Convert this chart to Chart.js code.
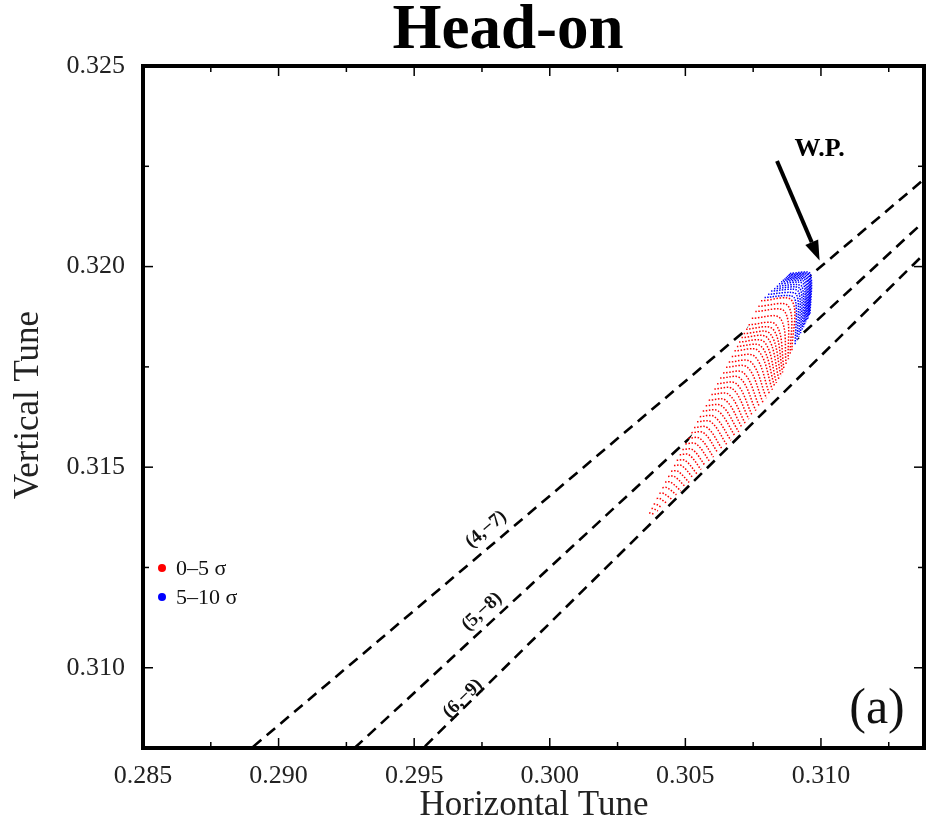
<!DOCTYPE html>
<html><head><meta charset="utf-8">
<script src="https://cdn.jsdelivr.net/npm/chart.js@4/dist/chart.umd.min.js"></script>
<style>html,body{margin:0;padding:0;background:#fff}canvas{display:block}</style>
</head><body>
<canvas id="c" width="933" height="821"></canvas>
<script>
// ---- axis ticks ----
const xTickValues = [0.285, 0.290, 0.295, 0.300, 0.305, 0.310];
const yTickValues = [0.310, 0.315, 0.320, 0.325];
const xMinorTicks = [0.2875, 0.2925, 0.2975, 0.3025, 0.3075, 0.3125];
const yMinorTicks = [0.3125, 0.3175, 0.3225];

// ---- resonance lines (Qx, Qy end points) ----
const res47 = [[0.285, 0.30571], [0.315, 0.32286]];
const res58 = [[0.285, 0.303125], [0.315, 0.321875]];
const res69 = [[0.285, 0.301111], [0.315, 0.321111]];
const resLabels = ['(4,\u22127)', '(5,\u22128)', '(6,\u22129)'];
const resLabelPos = [[0.29765, 0.31345], [0.2975, 0.3114], [0.2968, 0.30923]];

// ---- working point arrow ----
const wpArrow = [[0.30838, 0.32263], [0.30995, 0.32015]];
const wpLabelPos = [0.30995, 0.32293];

// ---- footprint 0-5 sigma (red): each arc = upper-left end, middle, lower-right end ----
const redUL = [[0.30366,0.31386],[0.30375,0.31397],[0.30383,0.31408],[0.30394,0.31422],[0.30404,0.31435],[0.30415,0.31449],[0.30425,0.31463],[0.30436,0.31477],[0.30447,0.31490],[0.30458,0.31504],[0.30468,0.31517],[0.30479,0.31531],[0.30489,0.31544],[0.30500,0.31558],[0.30511,0.31572],[0.30522,0.31586],[0.30532,0.31599],[0.30543,0.31613],[0.30553,0.31626],[0.30564,0.31640],[0.30575,0.31653],[0.30586,0.31667],[0.30596,0.31681],[0.30607,0.31695],[0.30617,0.31708],[0.30628,0.31722],[0.30639,0.31735],[0.30650,0.31749],[0.30660,0.31762],[0.30671,0.31776],[0.30681,0.31790],[0.30690,0.31801],[0.30698,0.31812],[0.30707,0.31823],[0.30715,0.31833],[0.30724,0.31844],[0.30733,0.31855],[0.30745,0.31871],[0.30758,0.31888],[0.30769,0.31901],[0.30779,0.31915]];
const redMid = [[0.30369,0.31386],[0.30380,0.31397],[0.30391,0.31408],[0.30405,0.31422],[0.30418,0.31435],[0.30432,0.31449],[0.30445,0.31463],[0.30459,0.31477],[0.30472,0.31490],[0.30486,0.31504],[0.30499,0.31517],[0.30513,0.31531],[0.30526,0.31544],[0.30540,0.31558],[0.30553,0.31572],[0.30567,0.31586],[0.30580,0.31599],[0.30594,0.31613],[0.30607,0.31626],[0.30621,0.31640],[0.30634,0.31653],[0.30648,0.31667],[0.30661,0.31681],[0.30675,0.31695],[0.30688,0.31708],[0.30702,0.31722],[0.30715,0.31735],[0.30729,0.31749],[0.30742,0.31762],[0.30756,0.31776],[0.30769,0.31790],[0.30780,0.31801],[0.30791,0.31812],[0.30802,0.31823],[0.30812,0.31833],[0.30823,0.31844],[0.30834,0.31855],[0.30850,0.31871],[0.30866,0.31888],[0.30880,0.31901],[0.30893,0.31915]];
const redLR = [[0.30384,0.31383],[0.30399,0.31391],[0.30414,0.31399],[0.30432,0.31410],[0.30450,0.31420],[0.30467,0.31431],[0.30483,0.31441],[0.30499,0.31452],[0.30514,0.31462],[0.30529,0.31473],[0.30543,0.31483],[0.30558,0.31494],[0.30573,0.31504],[0.30589,0.31515],[0.30604,0.31525],[0.30620,0.31536],[0.30635,0.31546],[0.30652,0.31557],[0.30668,0.31567],[0.30683,0.31578],[0.30697,0.31588],[0.30709,0.31599],[0.30721,0.31609],[0.30734,0.31620],[0.30746,0.31630],[0.30760,0.31641],[0.30773,0.31651],[0.30786,0.31662],[0.30799,0.31672],[0.30810,0.31683],[0.30821,0.31693],[0.30829,0.31702],[0.30836,0.31710],[0.30845,0.31719],[0.30853,0.31727],[0.30859,0.31736],[0.30864,0.31744],[0.30872,0.31756],[0.30880,0.31769],[0.30887,0.31780],[0.30893,0.31790]];

// ---- footprint 5-10 sigma (blue) ----
const blueUL = [[0.30792,0.31923],[0.30805,0.31931],[0.30816,0.31939],[0.30827,0.31945],[0.30837,0.31951],[0.30845,0.31957],[0.30853,0.31962],[0.30859,0.31966],[0.30865,0.31969],[0.30870,0.31972],[0.30874,0.31975],[0.30879,0.31978],[0.30882,0.31980],[0.30886,0.31983]];
const blueMid = [[0.30901,0.31923],[0.30909,0.31931],[0.30916,0.31939],[0.30923,0.31945],[0.30929,0.31951],[0.30935,0.31957],[0.30939,0.31962],[0.30943,0.31966],[0.30947,0.31969],[0.30950,0.31972],[0.30953,0.31975],[0.30955,0.31978],[0.30957,0.31980],[0.30960,0.31983]];
const blueLR = [[0.30905,0.31806],[0.30912,0.31816],[0.30919,0.31826],[0.30925,0.31834],[0.30931,0.31842],[0.30936,0.31849],[0.30940,0.31855],[0.30944,0.31861],[0.30947,0.31865],[0.30951,0.31869],[0.30953,0.31873],[0.30956,0.31876],[0.30957,0.31879],[0.30960,0.31883]];

// ---- footprint outline (white background under the dots) ----
const footprintOutline = [[0.30353,0.31370],[0.30412,0.31445],[0.30474,0.31520],[0.30537,0.31595],[0.30595,0.31678],[0.30658,0.31763],[0.30720,0.31838],[0.30757,0.31878],[0.30779,0.31915],[0.30886,0.31983],[0.30960,0.31983],[0.30960,0.31883],[0.30897,0.31795],[0.30853,0.31728],[0.30805,0.31678],[0.30742,0.31628],[0.30684,0.31578],[0.30621,0.31538],[0.30559,0.31495],[0.30500,0.31453],[0.30437,0.31413],[0.30375,0.31378]];

const legendItems = [['0\u20135 \u03c3', '#ff0000'], ['5\u201310 \u03c3', '#0000ff']];

const toXY = arr => arr.map(p => ({x: p[0], y: p[1]}));
const SERIF = '"Liberation Serif", "Times New Roman", serif';

const datasets = [];
[res47, res58, res69].forEach(r => datasets.push({
  data: toXY(r), showLine: true, borderColor: '#000', borderWidth: 2.6,
  borderDash: [11, 7], pointRadius: 0, order: 5
}));
datasets.push({data: toXY(footprintOutline), showLine: false, pointRadius: 0, isOutline: true, order: 4});
blueUL.forEach((p, i) => datasets.push({
  data: toXY([p, blueMid[i], blueLR[i]]), showLine: true, borderColor: '#0000ff',
  borderWidth: 1.5, borderDash: [1.5, 1.2], tension: 0.25, pointRadius: 0, order: 2
}));
redUL.forEach((p, i) => datasets.push({
  data: toXY([p, redMid[i], redLR[i]]), showLine: true, borderColor: '#ff0000',
  borderWidth: 1.5, borderDash: [1.5, 1.6], tension: 0.35, pointRadius: 0, order: 1
}));

const deco = {
  id: 'deco',
  beforeDatasetDraw(chart, args) {
    const ds = chart.data.datasets[args.index];
    if (!ds.isOutline) return;
    const ctx = chart.ctx, pts = args.meta.data;
    ctx.save();
    ctx.beginPath();
    pts.forEach((p, i) => i ? ctx.lineTo(p.x, p.y) : ctx.moveTo(p.x, p.y));
    ctx.closePath();
    ctx.fillStyle = '#fff';
    ctx.fill();
    ctx.restore();
  },
  afterDraw(chart) {
    const ctx = chart.ctx, a = chart.chartArea, xs = chart.scales.x, ys = chart.scales.y;
    const px = v => xs.getPixelForValue(v), py = v => ys.getPixelForValue(v);
    ctx.save();
    ctx.strokeStyle = '#000'; ctx.lineWidth = 1.5;
    const tick = (x1, y1, x2, y2) => { ctx.beginPath(); ctx.moveTo(x1, y1); ctx.lineTo(x2, y2); ctx.stroke(); };
    xTickValues.forEach(v => { const x = px(v); tick(x, a.bottom, x, a.bottom - 10); tick(x, a.top, x, a.top + 10); });
    xMinorTicks.forEach(v => { const x = px(v); tick(x, a.bottom, x, a.bottom - 6); tick(x, a.top, x, a.top + 6); });
    yTickValues.forEach(v => { const y = py(v); tick(a.left, y, a.left + 10, y); tick(a.right, y, a.right - 10, y); });
    yMinorTicks.forEach(v => { const y = py(v); tick(a.left, y, a.left + 6, y); tick(a.right, y, a.right - 6, y); });
    ctx.lineWidth = 4;
    ctx.strokeRect(a.left, a.top, a.right - a.left, a.bottom - a.top);

    // resonance labels
    ctx.fillStyle = '#111';
    ctx.font = 'bold 19px ' + SERIF;
    ctx.textAlign = 'center'; ctx.textBaseline = 'middle';
    [res47, res58, res69].forEach((r, i) => {
      const ang = Math.atan2(py(r[1][1]) - py(r[0][1]), px(r[1][0]) - px(r[0][0]));
      ctx.save();
      ctx.translate(px(resLabelPos[i][0]), py(resLabelPos[i][1]));
      ctx.rotate(ang);
      ctx.fillText(resLabels[i], 0, 0);
      ctx.restore();
    });

    // W.P. arrow
    const tx = px(wpArrow[0][0]), ty = py(wpArrow[0][1]);
    const hx = px(wpArrow[1][0]), hy = py(wpArrow[1][1]);
    const ang = Math.atan2(hy - ty, hx - tx), hl = 20, hw = 7;
    const bx = hx - hl * Math.cos(ang), by = hy - hl * Math.sin(ang);
    ctx.strokeStyle = '#000'; ctx.lineWidth = 4;
    tick(tx, ty, bx, by);
    ctx.beginPath();
    ctx.moveTo(hx, hy);
    ctx.lineTo(bx + hw * Math.sin(ang), by - hw * Math.cos(ang));
    ctx.lineTo(bx - hw * Math.sin(ang), by + hw * Math.cos(ang));
    ctx.closePath(); ctx.fillStyle = '#000'; ctx.fill();
    ctx.font = 'bold 26px ' + SERIF;
    ctx.fillText('W.P.', px(wpLabelPos[0]), py(wpLabelPos[1]));

    // legend
    ctx.font = '22px ' + SERIF; ctx.textAlign = 'left';
    legendItems.forEach((it, i) => {
      const ly = 568 + i * 29;
      ctx.beginPath(); ctx.arc(a.left + 19, ly, 4, 0, Math.PI * 2); ctx.fillStyle = it[1]; ctx.fill();
      ctx.fillStyle = '#111'; ctx.fillText(it[0], a.left + 33, ly + 1);
    });

    // panel label
    ctx.font = '50px ' + SERIF; ctx.textAlign = 'center'; ctx.fillStyle = '#111';
    ctx.fillText('(a)', a.right - 47, a.bottom - 38);

    // title
    ctx.font = 'bold 63px ' + SERIF; ctx.fillStyle = '#000'; ctx.textBaseline = 'alphabetic';
    ctx.fillText('Head-on', 508, 48);

    // axis titles
    ctx.font = '35px ' + SERIF; ctx.fillStyle = '#222';
    ctx.fillText('Horizontal Tune', 534, 815);
    ctx.save(); ctx.translate(38, 405); ctx.rotate(-Math.PI / 2);
    ctx.fillText('Vertical Tune', 0, 0); ctx.restore();
    ctx.restore();
  }
};

new Chart(document.getElementById('c'), {
  type: 'scatter',
  data: {datasets},
  options: {
    responsive: false, animation: false, events: [], devicePixelRatio: 1,
    layout: {padding: {top: 66, right: 9, left: 0, bottom: 0}},
    plugins: {legend: {display: false}, tooltip: {enabled: false}, title: {display: false}},
    scales: {
      x: {
        type: 'linear', min: 0.285, max: 0.3138,
        grid: {display: false, drawTicks: false}, border: {display: false},
        ticks: {font: {family: SERIF, size: 26}, color: '#222', padding: 13, maxRotation: 0, autoSkip: false,
                callback: v => v.toFixed(3)},
        afterBuildTicks: s => { s.ticks = xTickValues.map(v => ({value: v})); },
        afterFit: s => { s.height = 73; }
      },
      y: {
        type: 'linear', min: 0.308, max: 0.325,
        grid: {display: false, drawTicks: false}, border: {display: false},
        ticks: {font: {family: SERIF, size: 26}, color: '#222', padding: 18, autoSkip: false,
                callback: v => v.toFixed(3)},
        afterBuildTicks: s => { s.ticks = yTickValues.map(v => ({value: v})); },
        afterFit: s => { s.width = 143; }
      }
    }
  },
  plugins: [deco]
});
</script>
</body></html>
